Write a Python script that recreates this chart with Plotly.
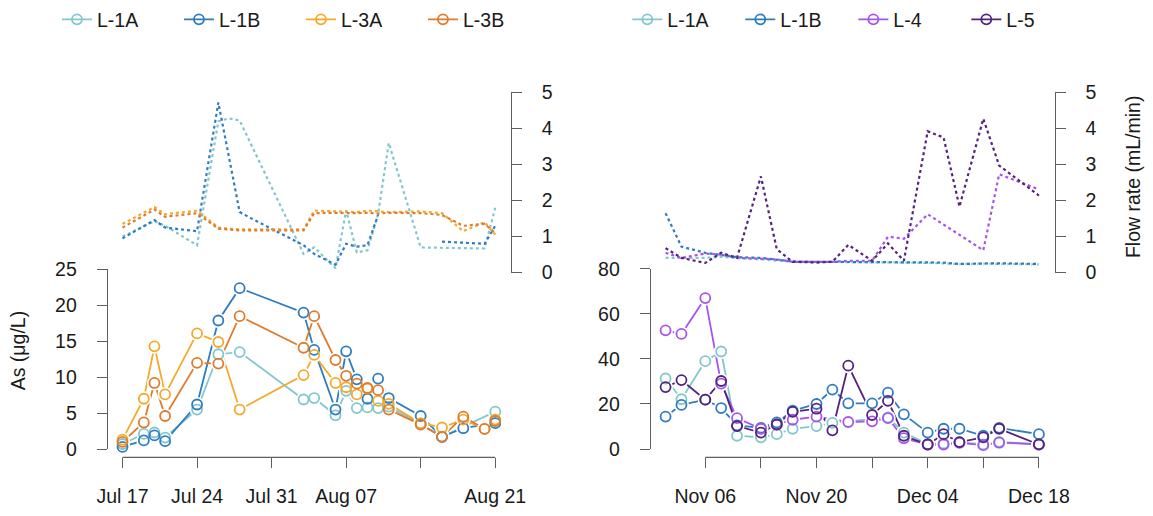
import plotly.graph_objects as go
from datetime import datetime, timedelta

W, H = 1153, 516

# ---------------- data: summer panel (left) ----------------
summer_dates = ["2019-07-17", "2019-07-19", "2019-07-20", "2019-07-21", "2019-07-24",
                "2019-07-26", "2019-07-28", "2019-08-03", "2019-08-04", "2019-08-06",
                "2019-08-07", "2019-08-08", "2019-08-09", "2019-08-10", "2019-08-11",
                "2019-08-14", "2019-08-16", "2019-08-18", "2019-08-20", "2019-08-21"]
as_L1A_summer = [0.7, 2.1, 2.3, 1.6, 5.5, 13.2, 13.5, 6.9, 7.1, 4.7,
                 8.1, 5.7, 5.8, 5.7, 5.9, 3.5, 1.7, None, None, 5.2]
as_L1B_summer = [0.3, 1.2, 1.9, 1.1, 6.2, 17.9, 22.4, 19.0, 13.8, 5.5,
                 13.6, 9.7, 7.0, 9.8, 7.1, 4.6, 1.7, 2.9, None, 3.6]
as_L3A_summer = [1.3, 7.0, 14.3, 7.6, 16.1, 14.9, 5.5, 10.3, 13.1, 9.2,
                 8.6, 7.6, 8.4, 6.7, 6.3, 3.6, 3.0, 4.1, 2.8, 4.1]
as_L3B_summer = [1.0, 3.7, 9.2, 4.6, 12.0, 11.9, 18.5, 14.1, 18.5, 12.4,
                 10.2, 9.1, 8.5, 8.2, 5.5, 3.4, 1.7, 4.5, 2.8, 3.9]

flow_L1A_summer_dates = ["2019-07-17", "2019-07-20", "2019-07-21", "2019-07-24", "2019-07-26",
                         "2019-07-27", "2019-07-28", "2019-08-03", "2019-08-04", "2019-08-06",
                         "2019-08-07", "2019-08-08", "2019-08-09", "2019-08-10", "2019-08-11",
                         "2019-08-14", "2019-08-20", "2019-08-21"]
flow_L1A_summer = [1.0, 1.43, 1.3, 0.76, 4.2, 4.28, 4.22, 0.52, 0.7, 0.12,
                   1.73, 0.56, 0.62, 1.62, 3.6, 0.7, 0.67, 1.8]
flow_L1B_summer_dates = ["2019-07-17", "2019-07-20", "2019-07-21", "2019-07-24", "2019-07-26",
                         "2019-07-28", "2019-07-29", "2019-08-01", "2019-08-03", "2019-08-04",
                         "2019-08-06", "2019-08-07", "2019-08-08", "2019-08-09", "2019-08-10",
                         "2019-08-12", "2019-08-16", "2019-08-18", "2019-08-20", "2019-08-21"]
flow_L1B_summer = [0.95, 1.46, 1.25, 1.15, 4.72, 1.68, 1.52, 1.05, 0.76, 0.52,
                   0.22, 0.8, 0.72, 0.76, 1.6, None, 0.86, 0.83, 0.8, 1.3]
flow_L3_summer_dates = ["2019-07-17", "2019-07-20", "2019-07-21", "2019-07-24", "2019-07-26",
                        "2019-07-28", "2019-08-03", "2019-08-04", "2019-08-06", "2019-08-07",
                        "2019-08-08", "2019-08-09", "2019-08-10", "2019-08-11", "2019-08-14",
                        "2019-08-16", "2019-08-18", "2019-08-20", "2019-08-21"]
flow_L3A_summer = [1.35, 1.82, 1.62, 1.72, 1.25, 1.2, 1.2, 1.72, 1.7, 1.7,
                   1.68, 1.72, 1.7, 1.68, 1.7, 1.65, 1.15, 1.4, 1.05]
flow_L3B_summer = [1.25, 1.75, 1.55, 1.65, 1.22, 1.17, 1.17, 1.65, 1.66, 1.65,
                   1.65, 1.66, 1.64, 1.66, 1.65, 1.6, 1.3, 1.35, 1.1]

summer_ticks = ["2019-07-17", "2019-07-24", "2019-07-31", "2019-08-07", "2019-08-14", "2019-08-21"]
summer_tick_labels = ["Jul 17", "Jul 24", "Jul 31", "Aug 07", "", "Aug 21"]

# ---------------- data: autumn panel (right) ----------------
autumn_dates = ["2019-11-01", "2019-11-03", "2019-11-06", "2019-11-08", "2019-11-10",
                "2019-11-13", "2019-11-15", "2019-11-17", "2019-11-20", "2019-11-22",
                "2019-11-24", "2019-11-27", "2019-11-29", "2019-12-01", "2019-12-04",
                "2019-12-06", "2019-12-08", "2019-12-11", "2019-12-13", "2019-12-18"]
as_L1A_autumn = [31.3, 22.1, 39.0, 43.3, 5.9, 5.2, 6.6, 9.0, 10.2, 11.6,
                 None, None, 14.0, 7.3, 2.2, 2.5, 3.0, 2.0, 3.2, 2.2]
as_L1B_autumn = [14.4, 19.6, 21.9, 18.2, 10.5, 9.4, 11.8, 17.0, 20.0, 26.4,
                 20.3, 20.3, 25.0, 15.4, 7.3, 9.0, 9.0, 5.9, 9.4, 6.6]
as_L4_autumn = [52.7, 51.1, 67.0, 29.0, 13.7, 9.0, 10.9, 13.0, 14.4, None,
                12.0, 12.3, 13.7, 4.8, 2.0, 2.0, 2.7, 1.7, 2.8, 2.1]
as_L5_autumn = [27.5, 30.6, 21.9, 30.2, 10.2, 7.3, 10.9, 16.5, 17.9, 8.3,
                37.0, 15.1, 21.4, 5.9, 2.0, 6.6, 3.1, 5.2, 9.0, 2.0]

flow_L1A_autumn = [0.41, 0.41, 0.41, 0.44, 0.4, 0.37, 0.33, 0.3, 0.3, 0.3,
                   0.29, 0.28, 0.28, 0.28, 0.27, 0.26, 0.24, 0.25, 0.24, 0.23]
flow_L1B_autumn = [1.65, 0.72, 0.55, 0.48, 0.43, 0.41, 0.35, 0.31, 0.3, 0.3,
                   0.3, 0.28, 0.29, 0.3, 0.3, 0.28, 0.24, 0.26, 0.26, 0.24]
flow_L4_autumn = [0.55, 0.41, 0.53, 0.5, 0.41, 0.39, 0.37, 0.3, 0.3, 0.3,
                  0.33, 0.33, 1.0, 0.94, 1.62, None, None, 0.62, 2.73, 2.31]
flow_L5_autumn = [0.68, 0.41, 0.27, 0.55, 0.41, 2.67, 0.65, 0.3, 0.28, 0.3,
                  0.77, 0.33, 0.81, 0.33, 3.92, 3.75, 1.83, 4.27, 2.97, 2.14]

autumn_ticks = ["2019-11-06", "2019-11-13", "2019-11-20", "2019-11-27",
                "2019-12-04", "2019-12-11", "2019-12-18"]
autumn_tick_labels = ["Nov 06", "", "Nov 20", "", "Dec 04", "", "Dec 18"]

as_ticks_summer = [0, 5, 10, 15, 20, 25]
as_ticks_autumn = [0, 20, 40, 60, 80]
flow_ticks = [0, 1, 2, 3, 4, 5]

colors = {"L-1A": "#82C7CE", "L-1B": "#2F7DC0", "L-3A": "#F3AA2C",
          "L-3B": "#E07B2E", "L-4": "#A854EC", "L-5": "#55227E"}

# ---------------- geometry helpers (pixels -> paper) ----------------
def fx(p):
    return p / W

def fy(p):
    return 1 - p / H

def xrange_for(ticks, dom_px, tick_px):
    t0 = datetime.fromisoformat(ticks[0])
    t1 = datetime.fromisoformat(ticks[-1])
    days = (t1 - t0).total_seconds() / 86400
    dpp = days / (tick_px[1] - tick_px[0])
    start = t0 - timedelta(days=(tick_px[0] - dom_px[0]) * dpp)
    end = t1 + timedelta(days=(dom_px[1] - tick_px[1]) * dpp)
    return [start.isoformat(), end.isoformat()]

AXC = "#5f5f5f"
TXT = "#1a1a1a"
FONT = "Liberation Sans, Arial, sans-serif"
FS = 19.5

L_DOM = (99, 511.7)
R_DOM = (654, 1067.7)
XAX_Y = 466

fig = go.Figure()

FLOW_DASH = "3px,3px"

# flow lines (dotted)
def flow(x, y, name, xa, ya, gaps=True):
    fig.add_trace(go.Scatter(x=x, y=y, mode="lines", xaxis=xa, yaxis=ya,
                             line=dict(color=colors[name], width=2.2, dash=FLOW_DASH),
                             connectgaps=gaps, showlegend=False, hoverinfo="skip"))

flow(flow_L1A_summer_dates, flow_L1A_summer, "L-1A", "x", "y2")
flow(flow_L1B_summer_dates, flow_L1B_summer, "L-1B", "x", "y2", gaps=False)
flow(flow_L3_summer_dates, flow_L3A_summer, "L-3A", "x", "y2")
flow(flow_L3_summer_dates, flow_L3B_summer, "L-3B", "x", "y2")
flow(autumn_dates, flow_L1A_autumn, "L-1A", "x2", "y4")
flow(autumn_dates, flow_L1B_autumn, "L-1B", "x2", "y4")
flow(autumn_dates, flow_L4_autumn, "L-4", "x2", "y4")
flow(autumn_dates, flow_L5_autumn, "L-5", "x2", "y4")

series = [
    (summer_dates, as_L1A_summer, "L-1A", "x", "y", "legend"),
    (summer_dates, as_L1B_summer, "L-1B", "x", "y", "legend"),
    (summer_dates, as_L3A_summer, "L-3A", "x", "y", "legend"),
    (summer_dates, as_L3B_summer, "L-3B", "x", "y", "legend"),
    (autumn_dates, as_L1A_autumn, "L-1A", "x2", "y3", "legend2"),
    (autumn_dates, as_L1B_autumn, "L-1B", "x2", "y3", "legend2"),
    (autumn_dates, as_L4_autumn, "L-4", "x2", "y3", "legend2"),
    (autumn_dates, as_L5_autumn, "L-5", "x2", "y3", "legend2"),
]

MS = 10
# 1) connecting lines (also carry the legend entries)
for x, y, name, xa, ya, lg in series:
    fig.add_trace(go.Scatter(x=x, y=y, mode="lines+markers", name=name, xaxis=xa, yaxis=ya,
                             line=dict(color=colors[name], width=1.8), connectgaps=True,
                             marker=dict(symbol="circle-open", size=MS, color=colors[name],
                                         line=dict(width=1.8, color=colors[name])),
                             legend=lg, cliponaxis=False, hoverinfo="skip"))
# 2) white gaps around the points (R type = "b")
for x, y, name, xa, ya, lg in series:
    fig.add_trace(go.Scatter(x=x, y=y, mode="markers", xaxis=xa, yaxis=ya,
                             marker=dict(symbol="circle", size=MS + 5, color="white",
                                         line=dict(width=0)),
                             showlegend=False, cliponaxis=False, hoverinfo="skip"))
# 3) hollow circles
for x, y, name, xa, ya, lg in series:
    fig.add_trace(go.Scatter(x=x, y=y, mode="markers", xaxis=xa, yaxis=ya,
                             marker=dict(symbol="circle-open", size=MS, color=colors[name],
                                         line=dict(width=1.8, color=colors[name])),
                             showlegend=False, cliponaxis=False, hoverinfo="skip"))

tickfont = dict(family=FONT, size=FS, color=TXT)

common_x = dict(showgrid=False, zeroline=False, showline=False, ticks="outside",
                ticklen=10, tickwidth=1.3, tickcolor=AXC, tickfont=tickfont,
                ticklabelstandoff=11,
                anchor="free", position=fy(XAX_Y), type="date")
common_y = dict(showgrid=False, zeroline=False, showline=True, linecolor=AXC, linewidth=1.3,
                ticks="outside", ticklen=10, tickwidth=1.3, tickcolor=AXC, tickfont=tickfont,
                ticklabelstandoff=16, anchor="free")

fig.update_layout(
    width=W, height=H, autosize=False,
    margin=dict(l=0, r=0, t=0, b=0),
    paper_bgcolor="white", plot_bgcolor="rgba(0,0,0,0)",
    font=dict(family=FONT, size=FS, color=TXT),
    xaxis=dict(common_x, domain=[fx(L_DOM[0]), fx(L_DOM[1])],
               range=xrange_for(summer_ticks, L_DOM, (115, 496)),
               tickvals=summer_ticks, ticktext=summer_tick_labels),
    xaxis2=dict(common_x, domain=[fx(R_DOM[0]), fx(R_DOM[1])],
                range=xrange_for(autumn_ticks, R_DOM, (710.7, 1051.7)),
                tickvals=autumn_ticks, ticktext=autumn_tick_labels),
    yaxis=dict(common_y, domain=[fy(457.3), fy(269)], range=[0, 25],
               tickvals=as_ticks_summer, position=fx(L_DOM[0])),
    yaxis2=dict(common_y, domain=[fy(272.3), fy(83.3)], range=[0, 5], side="right",
                tickvals=flow_ticks, position=fx(L_DOM[1])),
    yaxis3=dict(common_y, domain=[fy(457.3), fy(268.3)], range=[0, 80],
                tickvals=as_ticks_autumn, position=fx(R_DOM[0])),
    yaxis4=dict(common_y, domain=[fy(272.3), fy(83.3)], range=[0, 5], side="right",
                tickvals=flow_ticks, position=fx(R_DOM[1])),
    legend=dict(orientation="h", x=fx(48), y=fy(7), xanchor="left", yanchor="middle",
                font=dict(family=FONT, size=FS, color=TXT), bgcolor="rgba(0,0,0,0)",
                entrywidth=77, entrywidthmode="pixels", itemwidth=30),
    legend2=dict(orientation="h", x=fx(631), y=fy(7), xanchor="left", yanchor="middle",
                 font=dict(family=FONT, size=FS, color=TXT), bgcolor="rgba(0,0,0,0)",
                 entrywidth=68, entrywidthmode="pixels", itemwidth=30),
    showlegend=True,
    shapes=[
        dict(type="line", xref="x", yref="paper", x0=summer_ticks[0], x1=summer_ticks[-1],
             y0=fy(XAX_Y), y1=fy(XAX_Y), line=dict(color=AXC, width=1.3)),
        dict(type="line", xref="x2", yref="paper", x0=autumn_ticks[0], x1=autumn_ticks[-1],
             y0=fy(XAX_Y), y1=fy(XAX_Y), line=dict(color=AXC, width=1.3)),
    ],
    annotations=[
        dict(text="As (μg/L)", x=fx(8), y=fy(354), xref="paper", yref="paper",
             xanchor="center", yanchor="middle",
             textangle=-90, showarrow=False, font=dict(family=FONT, size=FS, color=TXT)),
        dict(text="Flow rate (mL/min)", x=fx(1148), y=fy(172), xref="paper", yref="paper",
             xanchor="center", yanchor="middle",
             textangle=-90, showarrow=False, font=dict(family=FONT, size=FS, color=TXT)),
    ],
)

fig.write_html("out.html")
